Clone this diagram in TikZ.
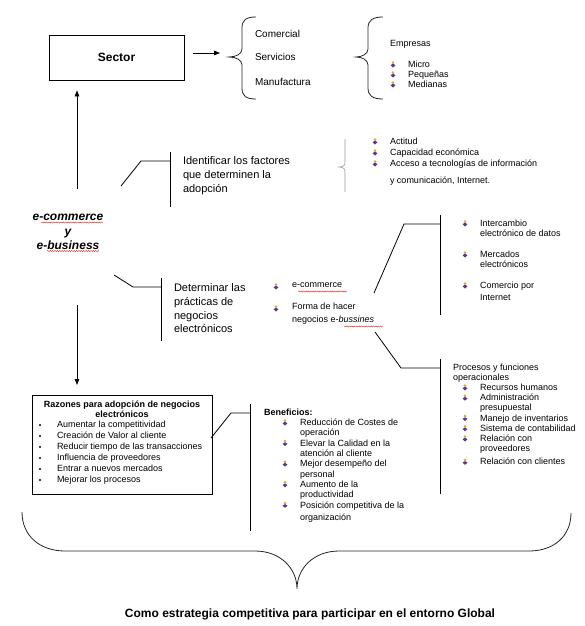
\documentclass[tikz,border=0pt]{standalone}
\usepackage{fontspec}
\setmainfont{Liberation Sans}
\usetikzlibrary{arrows.meta,decorations.pathmorphing}
\definecolor{icono}{RGB}{232,168,40}
\definecolor{iconp}{RGB}{84,60,150}
\definecolor{wavyred}{RGB}{220,40,30}
\newcommand\wbul[2]{%
  \fill[icono] (#1,#2-2.4) circle (1.5pt);
  \fill[iconp] (#1-2.5,#2+0.2) -- (#1,#2-1.3) -- (#1+2.5,#2+0.2) -- (#1,#2+2.5) -- cycle;}
\newcommand\dbul[2]{\fill (#1,#2) circle (1.2pt);}
\begin{document}
\begin{tikzpicture}[x=1pt,y=-1pt,
  txt/.style={inner sep=0pt, outer sep=0pt, anchor=north west, align=left},
  lone/.style={inner sep=0pt, outer sep=0pt, anchor=west},
  fnine/.style={font=\fontsize{9}{10.2}\selectfont},
  ften/.style={font=\fontsize{10}{12}\selectfont},
  feleven/.style={font=\fontsize{11}{13.6}\selectfont},
  conn/.style={line width=0.8pt, black},
  bracecurve/.style={line width=0.8pt, black!85},
  arr/.style={line width=0.8pt, -{Triangle[length=6pt,width=4.5pt]}},
  wavy/.style={wavyred, line width=0.4pt, decorate, decoration={snake, amplitude=0.6pt, segment length=2.4pt}}]
\fill[white] (0,0) rectangle (584,626);
\useasboundingbox (0,0) rectangle (584,626);

% Sector
\node[draw, line width=0.8pt, minimum width=135pt, minimum height=45pt, inner sep=0pt,
      font=\fontsize{12}{14}\selectfont\bfseries] (sector) at (116.5,57.5) {Sector};
\coordinate (sa) at (193,53);
\coordinate (sb) at (220,53);
\draw[arr] (sa) -- (sb);

% first brace
\draw[bracecurve] (256,17) .. controls (246,17) and (242,20) .. (242,28) -- (242,49)
  .. controls (242,54) and (236,57) .. (229,57) .. controls (236,57) and (242,60) .. (242,65)
  -- (242,88) .. controls (242,96) and (246,99) .. (256,99);
\node[lone, ften] (com) at (255,34) {Comercial};
\node[lone, ften] (serv) at (255,57) {Servicios};
\node[lone, ften] (manu) at (255,82) {Manufactura};

% second brace
\draw[bracecurve] (383,17) .. controls (373,17) and (368,20) .. (368,28) -- (368,49)
  .. controls (368,54) and (362,57) .. (356,57) .. controls (362,57) and (368,60) .. (368,65)
  -- (368,88) .. controls (368,96) and (373,99) .. (383,99);
\node[lone, fnine] (emp) at (390,44) {Empresas};
\node[txt, font=\fontsize{9}{10}\selectfont] (empl) at (408,60.5) {Micro\\Pequeñas\\Medianas};
\wbul{393}{65}\wbul{393}{75}\wbul{393}{85}

% e-commerce y e-business
\node[inner sep=0pt, align=center, font=\fontsize{12}{14.5}\selectfont\bfseries\itshape] (ecb) at (68,232)
  {e-commerce\\y\\e-business};
\draw[wavy] (41,222.5) -- (103,222.5);
\draw[wavy] (47,251) -- (99,251);
\coordinate (ua) at (77,189);
\draw[arr, shorten >=10pt] (ua) -- (ua |- sector.south);
\coordinate (da) at (77,305);
\node[draw, line width=0.8pt, minimum width=180pt, minimum height=99pt, inner sep=0pt, anchor=north west] (razbox) at (32,395) {};
\draw[arr, shorten >=10pt] (da) -- (da |- razbox.north);

% Identificar
\coordinate (c1a) at (121,186);
\coordinate (c1b) at (141,161);
\coordinate (c1c) at (170,161);
\coordinate (c1t) at (170,152);
\coordinate (c1u) at (170,207);
\draw[conn] (c1a) -- (c1b) -- (c1c);
\draw[conn] (c1t) -- (c1u);
\node[txt, feleven] (ident) at (183,157) {Identificar los factores\\que determinen la\\adopción};

% small brace + list
\draw[black!40, line width=0.6pt] (345,139) -- (345,163) .. controls (345,166) and (342,167) .. (338,167)
  .. controls (342,167) and (345,168) .. (345,171) -- (345,192);
\node[txt, font=\fontsize{9}{11}\selectfont] (act) at (390,138)
  {Actitud\\Capacidad económica\\Acceso a tecnologías de información\\[6pt]y comunicación, Internet.};
\wbul{375}{142}\wbul{375}{153}\wbul{375}{164}

% Determinar
\coordinate (c2a) at (114,275);
\coordinate (c2b) at (133,287);
\coordinate (c2c) at (161,287);
\coordinate (c2t) at (161,278);
\coordinate (c2u) at (161,341);
\draw[conn] (c2a) -- (c2b) -- (c2c);
\draw[conn] (c2t) -- (c2u);
\node[txt, feleven] (deter) at (174,284) {Determinar las\\prácticas de\\negocios\\electrónicos};

% e-commerce list
\node[txt, font=\fontsize{9}{13}\selectfont] (ecl) at (292,283)
  {e-commerce\\[9pt]Forma de hacer\\negocios e-\textit{bussines}};
\wbul{276}{287}\wbul{276}{309}
\draw[wavy] (298,291.5) -- (347,291.5);
\draw[wavy] (344,326.5) -- (383,326.5);

% upper right bracket
\coordinate (c3a) at (374,293);
\coordinate (c3b) at (404,224);
\coordinate (c3c) at (440,224);
\coordinate (c3t) at (440,215);
\coordinate (c3u) at (440,315);
\draw[conn] (c3a) -- (c3b) -- (c3c);
\draw[conn] (c3t) -- (c3u);
\node[txt, font=\fontsize{9}{10}\selectfont] (inter) at (480,220)
  {Intercambio\\electrónico de datos\\[11pt]Mercados\\electrónicos\\[11pt]Comercio por\\[2pt]Internet};
\wbul{465}{224}\wbul{465}{255}\wbul{465}{286}

% lower right bracket
\coordinate (c4a) at (375,332);
\coordinate (c4b) at (401,368);
\coordinate (c4c) at (440,368);
\coordinate (c4t) at (440,359);
\coordinate (c4u) at (440,494);
\draw[conn] (c4a) -- (c4b) -- (c4c);
\draw[conn] (c4t) -- (c4u);
\node[txt, font=\fontsize{9}{9.5}\selectfont] (proc) at (453,364) {Procesos y funciones\\operacionales};
\node[txt, font=\fontsize{9}{10.2}\selectfont] (procl) at (480,384)
  {Recursos humanos\\Administración\\presupuestal\\Manejo de inventarios\\Sistema de contabilidad\\Relación con\\proveedores\\[3pt]Relación con clientes};
\wbul{465}{388}\wbul{465}{398.2}\wbul{465}{418.6}\wbul{465}{428.8}\wbul{465}{439}\wbul{465}{462.4}

% Razones box content
\node[inner sep=0pt, align=center, font=\fontsize{9}{10}\selectfont\bfseries] (raztit) at (122,409)
  {Razones para adopción de negocios\\electrónicos};
\node[txt, font=\fontsize{9}{11}\selectfont] (razl) at (57,421)
  {Aumentar la competitividad\\Creación de Valor al cliente\\Reducir tiempo de las transacciones\\Influencia de proveedores\\Entrar a nuevos mercados\\Mejorar los procesos};
\dbul{40}{425}\dbul{40}{436}\dbul{40}{447}\dbul{40}{458}\dbul{40}{469}\dbul{40}{480}

% Beneficios bracket
\coordinate (c5a) at (211,438);
\coordinate (c5b) at (231,413);
\coordinate (c5c) at (250,413);
\coordinate (c5t) at (250,404);
\coordinate (c5u) at (250,531);
\draw[conn] (c5a) -- (c5b) -- (c5c);
\draw[conn] (c5t) -- (c5u);
\node[lone, font=\fontsize{9}{10}\selectfont\bfseries] (benef) at (264,412) {Beneficios:};
\node[txt, font=\fontsize{9}{10.3}\selectfont] (benl) at (300,419)
  {Reducción de Costes de\\operación\\Elevar la Calidad en la\\atención al cliente\\Mejor desempeño del\\personal\\Aumento de la\\productividad\\Posición competitiva de la\\[2.5pt]organización};
\wbul{285}{423}\wbul{285}{443.6}\wbul{285}{464.2}\wbul{285}{484.8}\wbul{285}{505.4}

% big bottom brace
\draw[bracecurve] (22,512) .. controls (22,536) and (40,551) .. (65,551) -- (255,551)
  .. controls (280,551) and (297,568) .. (297,589)
  .. controls (297,568) and (314,551) .. (339,551) -- (529,551)
  .. controls (554,551) and (571,536) .. (571,513);
\node[inner sep=0pt, font=\fontsize{12}{14}\selectfont\bfseries] (bottom) at (310,614)
  {Como estrategia competitiva para participar en el entorno Global};
\end{tikzpicture}
\end{document}
